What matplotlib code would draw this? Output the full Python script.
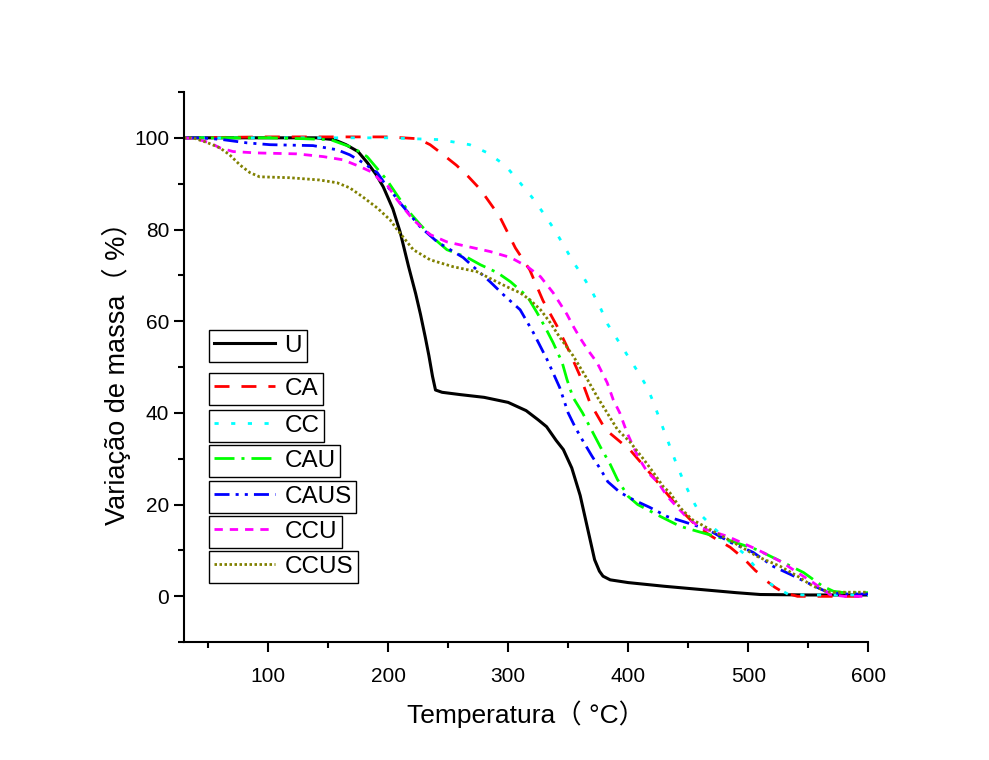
import numpy as np
import matplotlib
matplotlib.use("Agg")
import matplotlib.pyplot as plt
from matplotlib.ticker import MultipleLocator

nan = np.nan

# TG curves: temperature (°C) and mass (%)
t_u = [30, 60, 100, 140, 155, 165, 175, 183, 190, 196, 204, 210, 217, 223, 227, 231, 234, 237, 239.5, 245,
       260, 280, 300, 315, 325, 332, 340, 346, 353, 360, 366, 372, 376, 379, 385, 400, 430, 460, 490, 510, 550, 600]
m_u = [100, 100, 100, 100, 99.6, 98.5, 97, 94.5, 92, 89.3, 84.5, 79.5, 72, 66, 61.5, 56.5, 52.5, 48, 45, 44.5,
       44, 43.4, 42.3, 40.5, 38.5, 37, 34, 32, 28, 22, 15, 8, 5.5, 4.4, 3.6, 3, 2.2, 1.5, 0.8, 0.4, 0.3, 0.3]

t_ca = [30, 100, 200, 225, 235, 245, 257, 267, 277, 293, 306, 318, 329, 341, 349, 360, 368, 381, 392, 402,
        421, 441, 457, 470, 485, 496, 506, 509, 512, 516, 522, 529, 541, 560, 600]
m_ca = [100, 100.2, 100.2, 99.8, 98.5, 96.5, 94, 91.5, 88.7, 82.8, 76, 71.2, 64.5, 58.8, 54.5, 48, 42.3, 36.4, 34, 31.8,
        26, 19.6, 15.3, 13, 10.7, 8.3, 5.6, 5, nan, 3.2, 2, 0.9, 0, 0, 0]

t_cc = [30, 100, 200, 243, 268, 283, 297.5, 308, 320, 329, 337.5, 346, 354, 362.5, 370, 376.7, 383, 391, 399, 408,
        416, 421, 426, 431, 436, 441, 446.7, 453, 460, 472.5, 485, 497, 508, 513, 518, 526, 533, 546, 600]
m_cc = [100, 100, 100, 99.6, 98.5, 96.7, 94, 90.8, 87, 83.7, 80.4, 76.7, 73, 69.7, 66.4, 63, 59.3, 56, 52.7, 49,
        45.5, 42.3, 38.8, 35.3, 31.8, 28.3, 24.8, 21.3, 17.9, 14.6, 11.8, 9.2, 5.7, nan, 2.8, 1.5, 0.5, 0.3, 0.3]

t_cau = [30, 60, 100, 130, 152, 171, 182.5, 199, 208, 216, 227, 237.5, 249, 266, 277, 291, 302, 316, 324, 331,
         337.5, 345, 349, 354, 362, 370, 377, 385, 391, 400, 408, 427, 443, 460, 482, 507, 529, 546, 554, 562,
         571, 580, 600]
m_cau = [100, 100, 100, 99.8, 99.6, 97.8, 95.9, 90.8, 87.3, 84.3, 81, 78.2, 75.6, 73.9, 72.3, 70.6, 68.6, 65.4, 61.9, 58.6,
         55.3, 51, 47.3, 43.4, 40, 36, 32.5, 28.8, 25.5, 21.8, 20, 17.4, 15.3, 14, 12.4, 10.2, 7.4, 5.2, 3.7, 2.2,
         1.1, 0.8, 0.8]

t_caus = [30, 45, 62.5, 82.5, 101.7, 137.5, 157.5, 168, 179, 191, 196, 201.7, 210, 226.7, 241, 262.5, 285, 296, 310, 321,
          332.5, 343, 350, 356, 362.5, 370, 377, 383, 393, 404, 418, 432.5, 446, 466, 485, 504, 521, 535, 549, 566,
          580, 600]
m_caus = [100, 100, 99.6, 98.9, 98.5, 98.3, 97.4, 96.3, 94.6, 92.4, 90.5, 88.7, 85.8, 80.6, 77.3, 73.9, 68.6, 65.8, 62.5, 57.5,
          51.6, 45.5, 40, 36.8, 33.8, 30.5, 27.7, 25, 22.7, 21.1, 19.4, 17.4, 16.3, 14.6, 11.8, 9.6, 6.5, 4.8, 3, 0.9,
          0.5, 0.5]

t_ccu = [30, 40, 51.7, 60, 71, 91, 124, 146, 162.5, 176.7, 187.5, 193, 199, 207.5, 221, 235, 249, 266, 285, 302,
         316, 327, 337.5, 349, 354, 360, 367, 374, 382.5, 387.5, 393, 399, 408, 416, 425, 432.5, 441, 449, 460, 482.5,
         507.5, 527, 541, 554, 568, 580, 600]
m_ccu = [100, 99.8, 98.9, 97.8, 97, 96.7, 96.5, 95.9, 95.2, 93.7, 92.4, 90.8, 89.8, 86.5, 82.1, 78.9, 77.3, 76.3, 75.2, 73.9,
         71.9, 69.7, 66.2, 61.5, 59, 56.3, 53.5, 51, 46.6, 42.9, 40, 35.7, 30.5, 27.1, 24.8, 21.8, 19.4, 17.2, 15, 13.1,
         10.2, 7.6, 5.2, 3, 0.4, 0, 0]

t_ccus = [30, 37.5, 49, 60, 68, 77, 85, 93, 118, 143, 157.5, 168, 179, 191, 201.7, 207.5, 221, 235, 254, 274,
          287.5, 299, 310, 318, 327, 335, 343, 354, 357.5, 366, 374, 382.5, 391, 401.7, 412.5, 421, 429, 435, 443, 453,
          468, 487.5, 507.5, 527, 541, 554, 568, 580, 600]
m_ccus = [100, 100, 99, 97.8, 96.3, 94, 92.4, 91.5, 91.3, 90.8, 90.2, 89.1, 87.1, 84.7, 82.1, 80, 75.6, 73.4, 71.9, 70.8,
          69, 67.5, 66.2, 64.7, 62.5, 59.7, 56.5, 52.5, 51, 47.3, 43.6, 40, 36.4, 33.6, 30, 27, 24, 22.5, 19.4, 16.8,
          14.6, 11.8, 8.7, 6.5, 4.4, 2.2, 0.9, 0.9, 0.9]

labels = ["U", "CA", "CC", "CAU", "CAUS", "CCU", "CCUS"]
temps = [t_u, t_ca, t_cc, t_cau, t_caus, t_ccu, t_ccus]
masses = [m_u, m_ca, m_cc, m_cau, m_caus, m_ccu, m_ccus]
colors = ["#000000", "#ff0000", "#00ffff", "#00ff00", "#0000ff", "#ff00ff", "#808000"]
styles = ["-", (0, (5.4, 4.3)), (0, (1.5, 4.5)), (0, (7.2, 2.5, 1.1, 2.5)),
          (0, (5.4, 2.2, 1.1, 2.2, 1.1, 2.2)), (0, (3, 2.5)), (0, (0.9, 0.9))]
widths = [2.2, 2, 2, 2, 2, 2, 2]

# tops of the separate legend boxes (pixels from the top of the figure)
box_tops = [330, 373, 410, 445, 481, 516, 551]

plt.rcParams["font.family"] = ["Liberation Sans", "Noto Sans CJK SC", "DejaVu Sans"]

fig = plt.figure(figsize=(9.89, 7.6), dpi=100)
ax = fig.add_axes([0.186, 0.155, 0.692, 0.724])

lines = []
for t, m, c, ls, lw, lab in zip(temps, masses, colors, styles, widths, labels):
    ln, = ax.plot(t, m, color=c, linestyle=ls, linewidth=lw, label=lab)
    lines.append(ln)

ax.set_xlim(30, 600)
ax.set_ylim(-10, 110)
ax.xaxis.set_major_locator(MultipleLocator(100))
ax.xaxis.set_minor_locator(MultipleLocator(50))
ax.yaxis.set_major_locator(MultipleLocator(20))
ax.yaxis.set_minor_locator(MultipleLocator(10))
ax.spines["top"].set_visible(False)
ax.spines["right"].set_visible(False)
ax.spines["left"].set_linewidth(1.5)
ax.spines["bottom"].set_linewidth(1.5)
ax.tick_params(which="major", direction="out", length=7, width=1.5, labelsize=15)
ax.tick_params(which="minor", direction="out", length=4, width=1.5)
ax.tick_params(axis="x", which="major", pad=11)

ax.set_xlabel("Temperatura（ °C）", fontsize=19, labelpad=10)
ax.set_ylabel("Variação de massa（ %）", fontsize=19.5, labelpad=2)

for ln, lab, top in zip(lines, labels, box_tops):
    fig.legend([ln], [lab], loc="upper left", bbox_to_anchor=(209 / 989, 1 - top / 760),
               frameon=True, fancybox=False, edgecolor="black", framealpha=1,
               borderpad=0.2, borderaxespad=0, handlelength=2.5, handletextpad=0.4,
               fontsize=17.5)

fig.savefig("out.png", dpi=100)
